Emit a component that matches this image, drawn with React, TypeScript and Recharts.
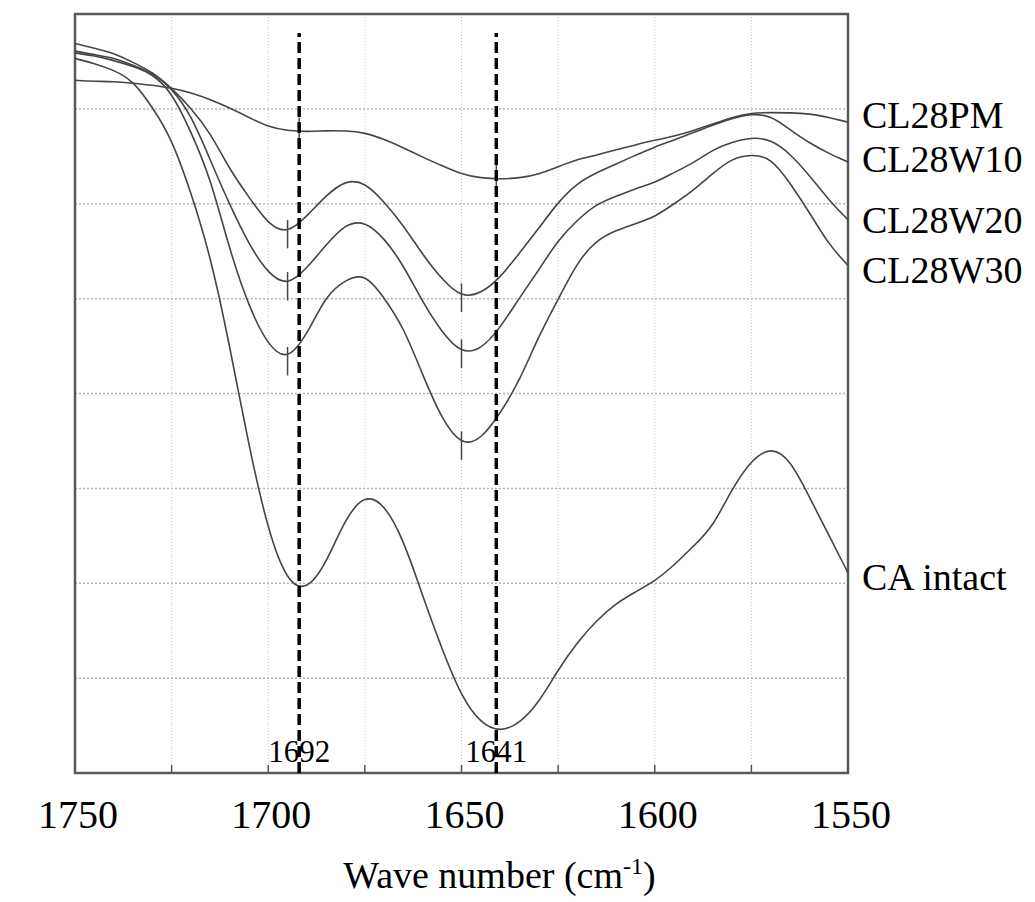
import { LineChart, Line, XAxis, YAxis, CartesianGrid, ReferenceLine, ReferenceArea } from 'recharts';

// wave numbers (cm-1), read every 5 cm-1 from 1750 down to 1550
const wavenumbers = [
  1750, 1745, 1740, 1735, 1730, 1725, 1720, 1715, 1710, 1705,
  1700, 1695, 1690, 1685, 1680, 1675, 1670, 1665, 1660, 1655,
  1650, 1645, 1640, 1635, 1630, 1625, 1620, 1615, 1610, 1605,
  1600, 1595, 1590, 1585, 1580, 1575, 1570, 1565, 1560, 1555, 1550,
];

// transmittance, arbitrary units (the plot has no y scale)
const pm = [
  73.0, 72.9, 72.9, 72.7, 72.5, 72.2, 71.7, 71.0, 70.1, 69.1,
  68.1, 67.7, 67.6, 67.7, 67.7, 67.5, 66.8, 65.9, 64.9, 64.0,
  63.1, 62.7, 62.6, 62.7, 63.1, 63.9, 64.7, 65.1, 65.7, 66.2,
  66.7, 67.1, 67.7, 68.4, 69.1, 69.6, 69.6, 69.6, 69.5, 69.1, 68.6,
];
const w10 = [
  76.9, 76.4, 75.9, 74.9, 73.9, 72.2, 70.1, 67.5, 63.6, 60.7,
  57.8, 56.8, 58.7, 60.9, 62.5, 62.3, 60.2, 57.7, 54.6, 52.0,
  50.1, 50.5, 52.2, 54.8, 57.4, 60.2, 62.2, 63.3, 64.2, 65.1,
  66.0, 66.7, 67.5, 68.3, 69.0, 69.5, 69.3, 67.8, 66.4, 65.3, 64.4,
];
const w20 = [
  76.1, 75.7, 75.4, 74.6, 73.8, 72.2, 69.4, 64.6, 59.9, 55.7,
  52.6, 51.3, 53.2, 55.7, 57.9, 58.2, 56.4, 53.5, 49.6, 46.4,
  44.2, 44.6, 46.9, 50.1, 53.0, 56.2, 58.3, 60.0, 60.8, 61.6,
  62.2, 63.3, 64.3, 65.7, 66.5, 67.0, 66.8, 65.3, 63.0, 60.4, 58.3,
];
const w30 = [
  75.9, 75.6, 75.1, 74.5, 73.7, 71.8, 67.6, 62.8, 55.1, 49.1,
  45.0, 43.4, 46.2, 50.4, 52.0, 52.7, 50.1, 47.0, 41.9, 37.2,
  34.5, 35.1, 37.9, 41.3, 46.1, 49.9, 53.9, 56.2, 57.2, 57.9,
  58.6, 60.0, 61.4, 63.2, 64.8, 65.2, 64.9, 62.2, 59.1, 55.7, 53.5,
];
const caIntact = [
  75.3, 74.8, 74.1, 73.0, 70.2, 66.9, 61.2, 54.6, 45.1, 34.4,
  25.4, 20.0, 19.2, 22.1, 26.9, 29.4, 28.4, 24.6, 18.6, 13.0,
  8.0, 5.2, 4.3, 5.2, 7.4, 10.9, 13.8, 16.1, 17.9, 19.1,
  20.2, 21.9, 23.9, 25.9, 30.0, 33.0, 34.4, 33.1, 29.1, 25.1, 21.1,
];

const xTicks = [1750, 1725, 1700, 1675, 1650, 1625, 1600, 1575, 1550];
const yTicks = [0, 10, 20, 30, 40, 50, 60, 70, 80];
const peakLines = [1692, 1641];
const dashTop = 78;

// small vertical marks the instrument put on the minima
const peakMarks = [
  { key: 'pm', wn: 1692 }, { key: 'pm', wn: 1641 },
  { key: 'w10', wn: 1695 }, { key: 'w10', wn: 1650 },
  { key: 'w20', wn: 1695 }, { key: 'w20', wn: 1650 },
  { key: 'w30', wn: 1695 }, { key: 'w30', wn: 1650 },
];

const series = [
  { key: 'pm', name: 'CL28PM', values: pm, dy: 6 },
  { key: 'w10', name: 'CL28W10', values: w10, dy: 10 },
  { key: 'w20', name: 'CL28W20', values: w20, dy: 13 },
  { key: 'w30', name: 'CL28W30', values: w30, dy: 18 },
  { key: 'ca', name: 'CA intact', values: caIntact, dy: 17 },
];

const rows = wavenumbers.map((wn, i) => {
  const row: any = { wn };
  series.forEach((s) => { row[s.key] = s.values[i]; });
  return row;
});

const valueAt = (key: string, wn: number) => {
  const s = series.find((d) => d.key === key)!;
  const i = wavenumbers.indexOf(Math.round(wn / 5) * 5);
  return s.values[i];
};

const serif = 'Liberation Serif, Times New Roman, DejaVu Serif, serif';
const ink = '#454545';

function XTick(props: any) {
  const { x, y, payload } = props;
  const v = payload.value;
  return (
    <g>
      <line x1={x} y1={y} x2={x} y2={y - 8} stroke="#555" strokeWidth={1.5} />
      {v % 50 === 0 && (
        <text x={x + 3} y={y + 55} textAnchor="middle" fill="#000" style={{ fontFamily: serif, fontSize: 40 }}>
          {v}
        </text>
      )}
    </g>
  );
}

const endLabel = (name: string, dy: number) => (props: any) => {
  if (props.index !== wavenumbers.length - 1) return <g />;
  return (
    <text x={props.x + 14} y={props.y + dy} fill="#000" style={{ fontFamily: serif, fontSize: 38 }}>
      {name}
    </text>
  );
};

const xTitle = (props: any) => {
  const vb = props.viewBox;
  return (
    <text x={vb.x + vb.width / 2 + 38} y={vb.y + 115} textAnchor="middle" fill="#000" style={{ fontFamily: serif, fontSize: 38 }}>
      Wave number (cm<tspan dy={-14} style={{ fontSize: 24 }}>-1</tspan><tspan dy={14}>)</tspan>
    </text>
  );
};

const yTitle = (props: any) => {
  const vb = props.viewBox;
  const x = vb.x - 33;
  const y = vb.y + vb.height / 2 - 20;
  return (
    <text
      x={x}
      y={y}
      transform={`rotate(-90, ${x}, ${y})`}
      textAnchor="middle"
      fill="#000"
      textLength={288}
      lengthAdjust="spacingAndGlyphs"
      style={{ fontFamily: serif, fontSize: 36 }}
    >
      Transmittance
    </text>
  );
};

export default function App() {
  return (
    <div style={{ position: 'absolute', left: 0, top: 0, width: 1035, height: 902, background: '#fff', fontFamily: serif }}>
      <LineChart width={1035} height={902} data={rows} margin={{ top: 14, right: 187, bottom: 0, left: 75 }}>
        <CartesianGrid vertical={false} stroke="#b4b4b4" strokeDasharray="2 2" strokeWidth={1.5} />
        <CartesianGrid horizontal={false} stroke="#c8c8c8" strokeDasharray="1 2" />
        <XAxis
          dataKey="wn"
          type="number"
          domain={[1550, 1750]}
          reversed
          ticks={xTicks}
          interval={0}
          height={129}
          tickSize={0}
          tickMargin={0}
          tickLine={false}
          axisLine={false}
          tick={<XTick />}
          label={{ content: xTitle }}
        />
        <YAxis
          type="number"
          domain={[0, 80]}
          ticks={yTicks}
          width={0}
          mirror
          tickSize={7}
          tickLine={{ stroke: '#333', strokeWidth: 2 }}
          axisLine={false}
          tickFormatter={() => ''}
          label={{ content: yTitle }}
        />
        <ReferenceArea
          x1={1750}
          x2={1550}
          y1={0}
          y2={80}
          fill="none"
          stroke="#5a5a5a"
          strokeWidth={2.5}
          ifOverflow="visible"
        />
        {series.map((s) => (
          <Line
            key={s.key}
            dataKey={s.key}
            type="basis"
            stroke={ink}
            strokeWidth={1.6}
            dot={false}
            isAnimationActive={false}
            label={endLabel(s.name, s.dy)}
          />
        ))}
        {peakMarks.map((m, i) => {
          const v = valueAt(m.key, m.wn);
          return (
            <ReferenceLine
              key={`mark-${i}`}
              segment={[{ x: m.wn, y: v - 1.5 }, { x: m.wn, y: v + 1.5 }]}
              stroke={ink}
              strokeWidth={1.5}
            />
          );
        })}
        {peakLines.map((wn) => (
          <ReferenceLine
            key={`peak-${wn}`}
            segment={[{ x: wn, y: 0 }, { x: wn, y: dashTop }]}
            stroke="#000"
            strokeWidth={3.5}
            strokeDasharray="11 5"
            label={{ value: String(wn), position: 'insideBottom', offset: 11, fill: '#000', style: { fontFamily: serif, fontSize: 31 } }}
          />
        ))}
      </LineChart>
    </div>
  );
}
